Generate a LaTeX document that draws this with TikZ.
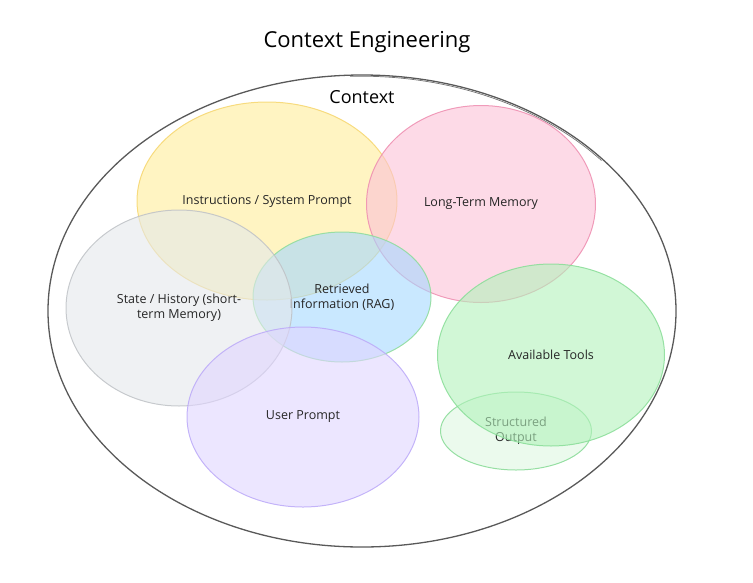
\documentclass[tikz,border=0pt]{standalone}
\usepackage{fontspec}
\setmainfont{Open Sans}
\usetikzlibrary{shapes.geometric,positioning}
\definecolor{instrfill}{HTML}{FFEC99}
\definecolor{instrline}{HTML}{F6D66E}
\definecolor{memfill}{HTML}{FCC2D7}
\definecolor{memline}{HTML}{EE8DB0}
\definecolor{ragfill}{HTML}{A5D8FF}
\definecolor{ragline}{HTML}{8CDC9A}
\definecolor{statefill}{HTML}{E4E8EB}
\definecolor{stateline}{HTML}{BFC2C6}
\definecolor{userfill}{HTML}{E0D5FF}
\definecolor{userline}{HTML}{BBA9F8}
\definecolor{toolfill}{HTML}{B2F2BB}
\definecolor{toolline}{HTML}{88DD97}
\definecolor{outfill}{HTML}{DDF7E1}
\definecolor{outline}{HTML}{86DA95}
\begin{document}
\begin{tikzpicture}[x=1pt,y=-1pt,
	bubble/.style={ellipse, draw, inner sep=0pt, line width=1pt, fill opacity=0.6, draw opacity=0.85, text opacity=1, align=center, font=\fontsize{12.5}{15}\selectfont, text=black!85},
	frame/.style={ellipse, draw=black!65, line width=1.3pt, inner sep=0pt}]
	\useasboundingbox (0,0) rectangle (753,582);
	\node (title) at (367,42) {\fontsize{22}{26}\selectfont Context Engineering};
	\node[frame, minimum width=628pt, minimum height=472pt] (ctx) at (362,311) {};
	\draw[black!55, line width=0.7pt] (ctx.north) ++(-12,2) arc (-92:-40:314 and 236);
	\node[below=13pt of ctx.north] (ctxlabel) {\fontsize{18}{21}\selectfont Context};
	\node[bubble, fill=instrfill, draw=instrline, minimum width=260pt, minimum height=198pt] (instr) at (267,201) {Instructions / System Prompt};
	\node[bubble, fill=memfill, draw=memline, minimum width=229pt, minimum height=197pt] (mem) at (481,204) {Long-Term Memory};
	\node[bubble, fill=ragfill, draw=ragline, minimum width=178pt, minimum height=130pt] (rag) at (342,297) {Retrieved\\Information (RAG)};
	\node[bubble, fill=statefill, draw=stateline, minimum width=226pt, minimum height=196pt] (state) at (179,308) {State / History (short-\\term Memory)};
	\node[bubble, fill=userfill, draw=userline, minimum width=232pt, minimum height=180pt] (user) at (303,417) {User Prompt};
	\node[bubble, fill=outfill, draw=outline, minimum width=151pt, minimum height=78pt] (output) at (516,431) {Structured\\Output};
	\node[bubble, fill=toolfill, draw=toolline, minimum width=227pt, minimum height=182pt] (tools) at (551,355) {Available Tools};
\end{tikzpicture}
\end{document}
